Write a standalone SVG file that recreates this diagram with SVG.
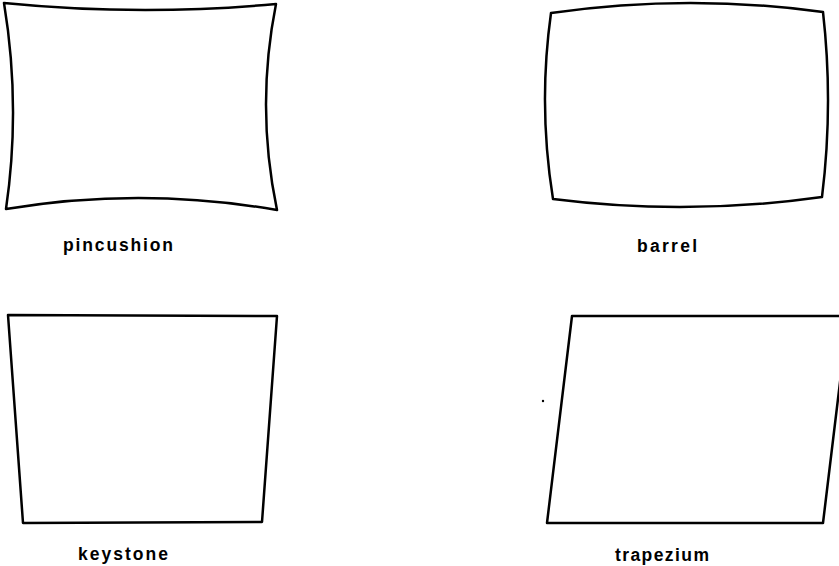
<svg xmlns="http://www.w3.org/2000/svg" width="839" height="566" viewBox="0 0 839 566">
<style>
.shape{fill:none;stroke:#000;stroke-width:2.5;stroke-linejoin:round;stroke-linecap:round}
.lbl{font-family:"Liberation Sans",Arial,sans-serif;font-size:17.5px;font-weight:bold;fill:#000}
</style>
<rect width="839" height="566" fill="#fff"/>
<g id="pincushion">
<path class="shape" d="M4,3 Q140,16.5 276,4 Q255.5,107 277,210 Q141,186.5 6,209 Q21,106 4,3 Z"/>
<text class="lbl" x="63" y="251" textLength="110" lengthAdjust="spacing">pincushion</text>
</g>
<g id="barrel">
<path class="shape" d="M551,13 Q687,-6.5 823,12 Q833.5,104.5 822,197 Q687,216 553,199 Q538,106 551,13 Z"/>
<text class="lbl" x="637" y="252" textLength="60" lengthAdjust="spacing">barrel</text>
</g>
<g id="keystone">
<path class="shape" d="M8,315 L277,316 L262,522 L23,523 Z"/>
<text class="lbl" x="78" y="560" textLength="90" lengthAdjust="spacing">keystone</text>
</g>
<g id="trapezium">
<path class="shape" d="M572,316 L848,316 L823,523 L547,523 Z"/>
<circle cx="543" cy="401" r="1.2" fill="#000"/>
<text class="lbl" x="615" y="561" textLength="94" lengthAdjust="spacing">trapezium</text>
</g>
<g id="connectors"></g>
</svg>
